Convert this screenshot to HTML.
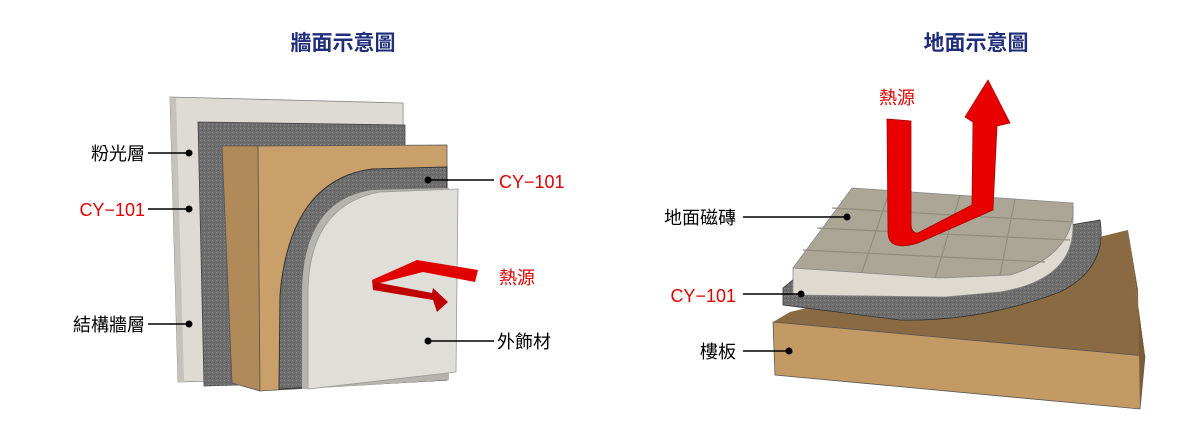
<!DOCTYPE html>
<html><head><meta charset="utf-8"><style>
html,body{margin:0;padding:0;background:#fff;width:1200px;height:433px;overflow:hidden}
svg{display:block}
text{font-family:"Liberation Sans","Noto Sans CJK TC",sans-serif;font-size:18px}
</style></head><body>
<svg width="1200" height="433" viewBox="0 0 1200 433" xmlns="http://www.w3.org/2000/svg">
<defs>
<pattern id="gr" width="4" height="4" patternUnits="userSpaceOnUse"><rect width="4" height="4" fill="#6e6e6e"/><rect width="1" height="1" fill="#8a8a8a"/><rect x="2" y="2" width="1" height="1" fill="#555"/></pattern>
</defs>
<text x="343" y="50" text-anchor="middle" font-weight="bold" fill="#1f2d7a" style="font-size:21px">牆面示意圖</text>
<text x="976" y="50" text-anchor="middle" font-weight="bold" fill="#1f2d7a" style="font-size:21px">地面示意圖</text>

<!-- LEFT WALL -->
<polygon points="170,97 403,103 405,375 178,382" fill="#dddbd3" stroke="#888" stroke-width="0.8"/>
<polygon points="170,97 176,98 184,382 178,382" fill="#c4c2ba"/>
<polygon points="198,122 405,125 405,380 204,386" fill="url(#gr)" stroke="#444" stroke-width="0.8"/>
<polygon points="222,146 258,146 260,391 232,383" fill="#b08a58" stroke="#555" stroke-width="0.8"/>
<polygon points="258,146 447,145 447,380 260,391" fill="#c9a069" stroke="#555" stroke-width="0.8"/>
<path d="M447,167 L372,169 Q290,180 280,295 L279,389 L447,380 Z" fill="url(#gr)" stroke="#333" stroke-width="1"/>
<path d="M449,188 L372,190 Q304,200 302,290 L302,389 L449,380 Z" fill="#b5b4ae"/>
<path d="M458,189 L380,192 Q310,205 308,290 L308,389 L456,372 Z" fill="#e0ded8" stroke="#999" stroke-width="0.8"/>
<polygon points="372,280 417,260 478,270 475,282 423,272 380,283" fill="#e00000"/>
<polygon points="372,280 380,283 432,293 433,288 448,302 437,312 433,300 373,290" fill="#c00000"/>
<g stroke="#000" stroke-width="1.4">
<line x1="148" y1="153" x2="189" y2="153"/><line x1="148" y1="209" x2="189" y2="209"/><line x1="148" y1="324" x2="189" y2="324"/>
<line x1="428" y1="180" x2="494" y2="180"/><line x1="428" y1="341" x2="494" y2="341"/>
</g>
<g fill="#000"><circle cx="189" cy="153" r="3.5"/><circle cx="189" cy="209" r="3.5"/><circle cx="189" cy="324" r="3.5"/><circle cx="428" cy="180" r="3.5"/><circle cx="428" cy="341" r="3.5"/></g>
<text x="145" y="160" text-anchor="end">粉光層</text>
<text x="145" y="216" text-anchor="end" fill="#e00000">CY−101</text>
<text x="145" y="331" text-anchor="end">結構牆層</text>
<text x="499" y="188" fill="#e00000">CY−101</text>
<text x="499" y="284" fill="#e00000">熱源</text>
<text x="497" y="348">外飾材</text>

<!-- RIGHT FLOOR -->
<polygon points="773,322 790,312 1128,230 1145,356" fill="#8a6a42"/>
<polygon points="773,322 1145,356 1140,409 775,375" fill="#c49a64" stroke="#555" stroke-width="0.8"/>
<polygon points="1128,230 1145,356 1140,409 1138,290" fill="#7a5c36"/>
<path d="M783,288 L805,270 L1100,220 Q1108,268 1060,292 Q980,322 900,320 L783,305 Z" fill="url(#gr)" stroke="#333" stroke-width="0.8"/>
<path d="M852,188 L1073,203 Q1076,255 1010,275 L940,278 L793,268 Z" fill="#aca696" stroke="#888" stroke-width="0.8"/>
<path d="M793,268 L940,278 L1010,275 Q1076,255 1073,203 L1073,228 Q1072,280 1000,292 L945,297 L793,295 Z" fill="#dedad0" stroke="#888" stroke-width="0.8"/>
<g stroke="#928c7e" stroke-width="1.2" fill="none">
<line x1="832" y1="208" x2="1073" y2="222"/><line x1="817" y1="228" x2="1070" y2="240"/><line x1="803" y1="250" x2="1045" y2="262"/>
<line x1="890" y1="190" x2="862" y2="272"/><line x1="960" y1="195" x2="935" y2="278"/><line x1="1015" y1="199" x2="1000" y2="275"/>
</g>
<path d="M887,119 L911,121 L911,225 Q912,234 918,233 L972,205 L973,122 L965,117 L988,80 L1010,123 L997,126 L993,210 L918,243 Q888,252 888,232 Z" fill="#e80000" stroke="#a00" stroke-width="0.8"/>
<g stroke="#000" stroke-width="1.4">
<line x1="743" y1="217" x2="847" y2="217"/><line x1="743" y1="294" x2="801" y2="294"/><line x1="743" y1="351" x2="789" y2="351"/>
</g>
<g fill="#000"><circle cx="847" cy="217" r="3.5"/><circle cx="801" cy="294" r="3.5"/><circle cx="789" cy="351" r="3.5"/></g>
<text x="736" y="224" text-anchor="end">地面磁磚</text>
<text x="736" y="302" text-anchor="end" fill="#e00000">CY−101</text>
<text x="736" y="358" text-anchor="end">樓板</text>
<text x="879" y="104" fill="#e00000">熱源</text>
</svg>
</body></html>
